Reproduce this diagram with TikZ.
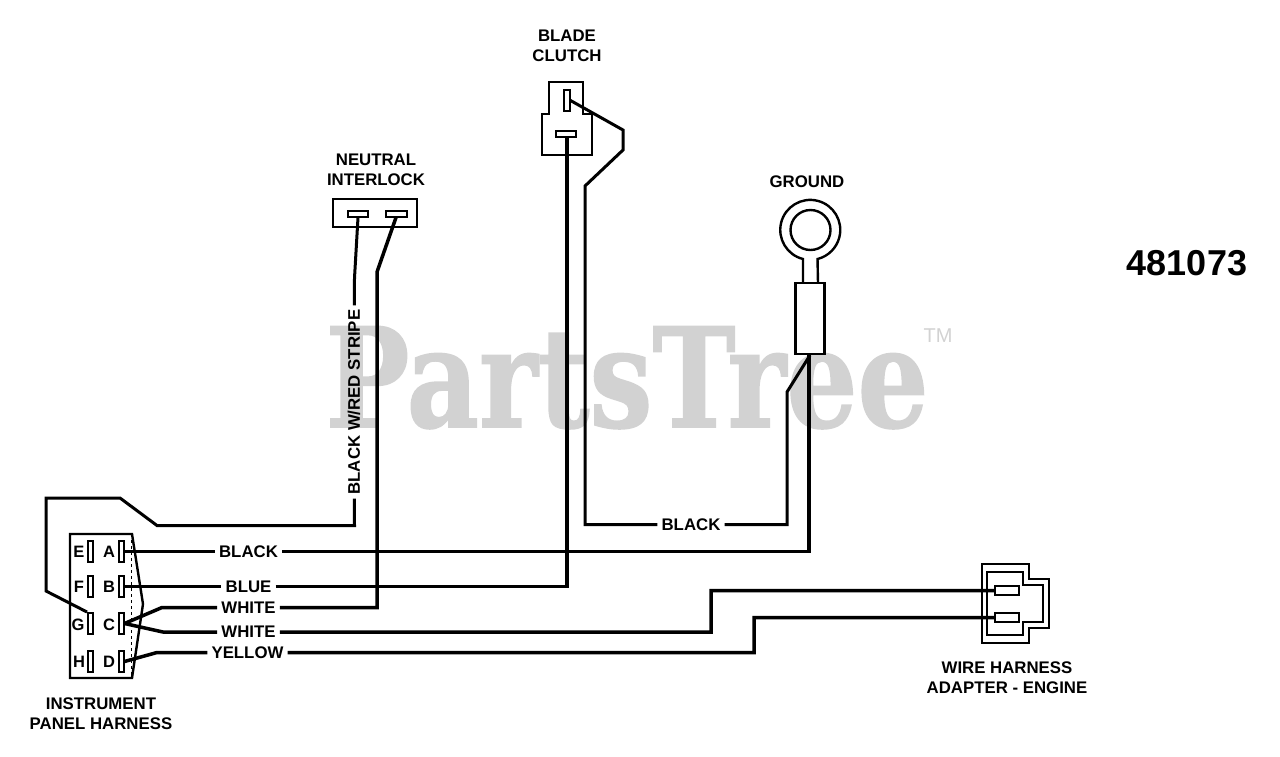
\documentclass[tikz,border=0pt]{standalone}
\usepackage{fontspec}
\setmainfont{Liberation Sans}
\newfontfamily\markfont[BoldFeatures={FakeBold=1.2}]{DejaVu Serif}
\definecolor{markgray}{HTML}{D2D2D2}
\tikzset{
  wire/.style={line width=3.5pt,line join=miter},
  thinwire/.style={line width=3pt},
  part/.style={line width=2.4pt},
  pin/.style={draw,line width=2pt,fill=white,inner sep=0pt},
  tag/.style={font=\fontsize{16.8}{20}\selectfont\bfseries,inner sep=4pt,align=center},
  letter/.style={font=\fontsize{16.5}{20}\selectfont\bfseries,inner sep=0pt},
}
\begin{document}
\begin{tikzpicture}[x=1pt,y=-1pt]
  \useasboundingbox (0,0) rectangle (1280,756);

  % watermark
  \node[font=\markfont\fontsize{138}{138}\selectfont\bfseries,text=markgray,xscale=.81,inner sep=0pt,anchor=base] (mark) at (627,427) {PartsTree};
  \node[font=\fontsize{20}{20}\selectfont,text=markgray,inner sep=0pt] (tm) at (938,336) {TM};

  % panel harness
  \draw[part] (132,534) -- (70,534) -- (70,678) -- (132,678) -- (143,604) -- cycle;
  \draw[line width=1pt,dashed] (131,534) -- (131,678);

  \begin{scope}[every node/.style={pin,minimum width=5pt,minimum height=21pt}]
    \node (pinE) at (90.5,551.5) {};
    \node (pinF) at (90.5,586.5) {};
    \node (pinG) at (90.5,623.5) {};
    \node (pinH) at (90.5,661.5) {};
    \node (pinA) at (121,551.5) {};
    \node (pinB) at (121,586.5) {};
    \node (pinC) at (121,623.5) {};
    \node (pinD) at (121,661.5) {};
  \end{scope}

  \begin{scope}[every node/.style={letter}]
    \node (ltrE) at (79,552) {E};
    \node (ltrF) at (79,587) {F};
    \node (ltrG) at (78,625) {G};
    \node (ltrH) at (79,662) {H};
    \node (ltrA) at (109,552) {A};
    \node (ltrB) at (109,587) {B};
    \node (ltrC) at (109,625) {C};
    \node (ltrD) at (109,662) {D};
  \end{scope}

  % neutral interlock
  \node[draw,part,fill=white,minimum width=84pt,minimum height=28pt,inner sep=0pt] (interlock) at (375,213) {};
  \node[pin,minimum width=20pt,minimum height=6pt] (pinN1) at (358,213.5) {};
  \node[pin,minimum width=21pt,minimum height=6pt] (pinN2) at (396,213.5) {};

  % blade clutch
  \draw[part] (549,114) -- (549,82) -- (583,82) -- (583,114) -- (592,114) -- (592,155) -- (542,155) -- (542,114) -- cycle;
  \node[pin,minimum width=6pt,minimum height=21pt] (pinK1) at (566.5,100.5) {};
  \node[pin,minimum width=20pt,minimum height=6pt] (pinK2) at (566,134) {};

  % ground terminal
  \draw[part] (803,283) -- (803,259) arc[start angle=104,end angle=436,radius=30] -- (818,283);
  \node[draw,circle,part,minimum size=40pt,inner sep=0pt] (ring) at (810.5,230) {};
  \node[draw,part,fill=white,minimum width=29pt,minimum height=71pt,inner sep=0pt] (ferrule) at (810,318.5) {};

  % adapter
  \draw[part] (982,564) -- (1029,564) -- (1029,579) -- (1049,579) -- (1049,628) -- (1029,628) -- (1029,643) -- (982,643) -- cycle;
  \draw[part] (987,572) -- (1023,572) -- (1023,585) -- (1043,585) -- (1043,622) -- (1023,622) -- (1023,635) -- (987,635) -- cycle;
  \node[pin,minimum width=24pt,minimum height=9pt] (pinW1) at (1007,590.5) {};
  \node[pin,minimum width=24pt,minimum height=9pt] (pinW2) at (1007,617.5) {};

  % wire labels
  \begin{scope}[every node/.style={tag}]
    \node (lblA) at (248.5,551.5) {BLACK};
    \node (lblB) at (248.5,586.5) {BLUE};
    \node (lblC1) at (248.5,607.5) {WHITE};
    \node (lblC2) at (248.5,632) {WHITE};
    \node (lblD) at (247.5,652.5) {YELLOW};
    \node (lblK) at (691,524.5) {BLACK};
    \node[rotate=90] (lblN) at (354,402) {BLACK W/RED STRIPE};
  \end{scope}

  % corners
  \coordinate (a1) at (809,551.5);
  \coordinate (b1) at (567,586.5);
  \coordinate (c1) at (162,607.5);
  \coordinate (c2) at (377,607.5);
  \coordinate (c3) at (377,272);
  \coordinate (c4) at (163,632);
  \coordinate (c5) at (711,632);
  \coordinate (c6) at (711,590.5);
  \coordinate (d1) at (157,652.5);
  \coordinate (d2) at (754,652.5);
  \coordinate (d3) at (754,617.5);
  \coordinate (g1) at (46,591);
  \coordinate (g2) at (46,498);
  \coordinate (g3) at (120,498);
  \coordinate (g4) at (157,525.5);
  \coordinate (g5) at (354.5,525.5);
  \coordinate (n1) at (354.5,278);
  \coordinate (k1) at (623,130);
  \coordinate (k2) at (623,150);
  \coordinate (k3) at (585,186);
  \coordinate (k4) at (585,524.5);
  \coordinate (k5) at (787,524.5);
  \coordinate (k6) at (787,392);

  \draw[wire] (pinA.east) -- (lblA) -- (a1) -- (ferrule.south -| a1);
  \draw[wire] (pinB.east) -- (lblB) -- (b1) -- (pinK2.south -| b1);
  \draw[wire] (pinC.east) -- (c1) -- (lblC1) -- (c2) -- (c3) -- (pinN2.south);
  \draw[wire] (pinC.east) -- (c4) -- (lblC2) -- (c5) -- (c6) -- (pinW1.west);
  \draw[wire] (pinD.east) -- (d1) -- (lblD) -- (d2) -- (d3) -- (pinW2.west);
  \draw[thinwire] (pinG.north west) -- (g1) -- (g2) -- (g3) -- (g4) -- (g5) -- (lblN) -- (n1) -- (pinN1.south);
  \draw[thinwire] (pinK1.east) -- (k1) -- (k2) -- (k3) -- (k4) -- (lblK) -- (k5) -- (k6) -- (ferrule.south);

  % part names
  \begin{scope}[every node/.style={tag}]
    \node (nameK) at (567,46) {BLADE\\CLUTCH};
    \node (nameN) at (376,170) {NEUTRAL\\INTERLOCK};
    \node (nameG) at (807,182) {GROUND};
    \node (nameP) at (101,714) {INSTRUMENT\\PANEL HARNESS};
    \node (nameW) at (1007,677.5) {WIRE HARNESS\\ADAPTER - ENGINE};
  \end{scope}
  \node[font=\fontsize{36}{36}\selectfont\bfseries,inner sep=0pt] (partno) at (1187,263) {481073};
\end{tikzpicture}
\end{document}
